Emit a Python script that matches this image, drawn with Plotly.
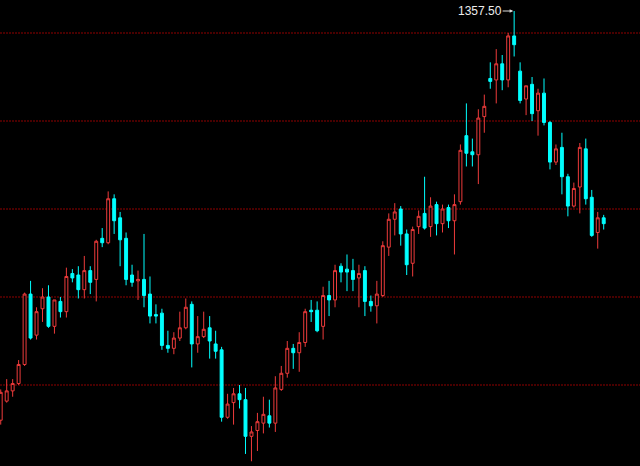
import plotly.graph_objects as go

# Daily OHLC series (bar index 0..101)
opens = [1218.0, 1224.5, 1228.0, 1230.5, 1237.0, 1261.0, 1247.0, 1256.0, 1260.0, 1250.0,
         1258.5, 1255.0, 1268.0, 1267.5, 1262.5, 1269.0, 1266.0, 1280.0, 1278.5, 1293.5,
         1287.0, 1280.0, 1267.5, 1265.5, 1266.0, 1261.0, 1254.0, 1254.5, 1243.5, 1242.5,
         1246.0, 1249.5, 1257.5, 1244.0, 1246.5, 1249.5, 1244.0, 1242.0, 1219.0, 1224.0,
         1227.0, 1225.0, 1212.5, 1214.5, 1217.0, 1219.5, 1217.0, 1228.5, 1234.0, 1242.5,
         1241.0, 1244.5, 1255.5, 1255.5, 1250.0, 1260.5, 1259.0, 1270.5, 1269.5, 1269.0,
         1266.5, 1269.0, 1258.5, 1257.0, 1260.5, 1277.0, 1286.5, 1290.0, 1281.5, 1271.5,
         1284.0, 1288.5, 1284.0, 1291.5, 1285.0, 1290.5, 1286.0, 1292.5, 1315.0, 1309.5,
         1308.5, 1321.5, 1334.5, 1334.0, 1339.5, 1334.0, 1349.0, 1337.0, 1327.5, 1332.5,
         1323.5, 1329.5, 1319.5, 1306.0, 1311.0, 1301.0, 1291.0, 1297.5, 1310.5, 1294.0,
         1282.0, 1287.0]
highs = [1228.5, 1232.0, 1232.0, 1238.5, 1261.5, 1265.5, 1256.5, 1263.0, 1264.0, 1259.0,
         1260.0, 1270.0, 1269.5, 1270.5, 1274.0, 1270.5, 1279.5, 1283.5, 1296.0, 1295.0,
         1289.0, 1282.0, 1271.0, 1269.0, 1281.5, 1267.0, 1257.5, 1256.0, 1248.5, 1248.0,
         1255.0, 1259.5, 1258.5, 1253.5, 1255.0, 1253.5, 1248.5, 1243.0, 1227.0, 1229.0,
         1230.0, 1229.0, 1216.0, 1220.5, 1226.0, 1225.0, 1233.0, 1236.5, 1245.0, 1244.0,
         1248.0, 1256.0, 1259.0, 1258.5, 1263.5, 1265.5, 1271.0, 1271.5, 1274.5, 1273.0,
         1271.0, 1270.5, 1260.5, 1265.5, 1279.0, 1288.5, 1292.0, 1291.0, 1283.0, 1284.0,
         1289.5, 1301.0, 1294.0, 1292.5, 1291.5, 1291.5, 1295.0, 1312.0, 1326.0, 1314.0,
         1324.0, 1329.0, 1340.0, 1344.5, 1342.5, 1350.0, 1357.5, 1340.0, 1332.0, 1335.0,
         1331.0, 1334.5, 1320.0, 1312.0, 1316.0, 1302.0, 1299.0, 1312.5, 1314.0, 1296.5,
         1289.0, 1288.0]
lows = [1216.5, 1224.0, 1226.0, 1230.0, 1236.5, 1245.5, 1245.5, 1251.5, 1249.5, 1247.5,
        1253.0, 1253.0, 1265.0, 1259.5, 1259.5, 1261.0, 1258.5, 1277.0, 1278.0, 1281.5,
        1270.5, 1264.0, 1263.5, 1259.0, 1256.5, 1251.0, 1251.0, 1242.0, 1241.0, 1240.5,
        1245.0, 1249.0, 1236.0, 1241.0, 1246.0, 1239.0, 1239.0, 1217.5, 1218.5, 1216.5,
        1222.0, 1206.5, 1204.0, 1207.5, 1213.5, 1215.5, 1214.0, 1228.0, 1232.5, 1235.5,
        1234.5, 1243.0, 1251.5, 1248.0, 1245.5, 1253.5, 1256.5, 1265.0, 1262.0, 1262.0,
        1256.5, 1253.5, 1255.0, 1251.0, 1260.0, 1274.0, 1281.0, 1277.5, 1267.5, 1267.0,
        1281.5, 1283.0, 1280.5, 1281.0, 1282.0, 1283.5, 1274.5, 1291.5, 1304.5, 1304.5,
        1298.5, 1316.0, 1331.0, 1326.0, 1330.5, 1331.5, 1342.0, 1326.0, 1322.0, 1320.0,
        1315.0, 1318.5, 1303.5, 1305.0, 1295.0, 1287.5, 1290.5, 1288.5, 1291.5, 1280.5,
        1276.5, 1283.0]
closes = [1227.5, 1228.0, 1230.5, 1237.0, 1261.0, 1246.0, 1255.0, 1260.0, 1250.0, 1259.0,
          1255.0, 1267.0, 1266.5, 1262.5, 1269.0, 1265.0, 1279.0, 1278.5, 1293.5, 1286.0,
          1279.5, 1266.0, 1265.0, 1266.0, 1260.5, 1253.5, 1253.5, 1243.5, 1242.5, 1246.0,
          1249.5, 1256.5, 1244.0, 1246.5, 1249.0, 1245.0, 1241.5, 1219.0, 1223.5, 1227.0,
          1225.0, 1212.5, 1214.0, 1217.5, 1220.0, 1217.0, 1229.0, 1234.0, 1242.5, 1241.0,
          1244.5, 1255.0, 1255.0, 1248.5, 1260.5, 1259.0, 1269.0, 1268.5, 1268.5, 1266.0,
          1268.0, 1258.5, 1257.0, 1261.0, 1277.5, 1286.5, 1289.0, 1281.5, 1271.0, 1283.0,
          1287.5, 1283.5, 1291.0, 1285.0, 1290.0, 1286.0, 1291.5, 1310.0, 1309.0, 1308.5,
          1321.0, 1325.0, 1333.5, 1339.5, 1334.0, 1349.0, 1346.0, 1327.0, 1332.0, 1322.5,
          1329.5, 1319.5, 1306.0, 1310.5, 1301.0, 1291.0, 1297.0, 1311.0, 1293.5, 1281.0,
          1287.0, 1285.0]

bars = list(range(len(opens)))
price_levels = [1230, 1260, 1290, 1320, 1350]

UP = "#ee3b3b"
DOWN = "#00ffff"
GRID = "#900000"

fig = go.Figure(go.Candlestick(
    x=bars, open=opens, high=highs, low=lows, close=closes,
    increasing=dict(line=dict(color=UP, width=1), fillcolor="#000000"),
    decreasing=dict(line=dict(color=DOWN, width=1), fillcolor=DOWN),
    whiskerwidth=0,
    showlegend=False,
    hoverinfo="skip",
))

# Dotted horizontal price guides behind the candles
for level in price_levels:
    fig.add_hline(y=level, line=dict(color=GRID, width=1, dash="2px,1px"), layer="below")

# Mark the highest high with its price and a pointer arrow
peak = max(range(len(highs)), key=lambda i: highs[i])
fig.add_annotation(
    x=bars[peak], y=highs[peak], text=f"{highs[peak]:.2f}",
    showarrow=True, ax=-34, ay=0, axref="pixel", ayref="pixel",
    arrowhead=2, arrowsize=0.7, arrowwidth=1, arrowcolor="#dcdcdc",
    standoff=1, borderpad=0,
    font=dict(family="Liberation Sans, Arial", size=12, color="#ececec"),
)

fig.update_layout(
    width=640, height=466,
    margin=dict(l=0, r=0, t=0, b=0),
    paper_bgcolor="#000000", plot_bgcolor="#000000",
    boxgap=0.3,
    xaxis=dict(range=[-0.12, 107.08], showgrid=False, zeroline=False,
               showticklabels=False, ticks="", showline=False,
               rangeslider=dict(visible=False)),
    yaxis=dict(range=[1202.39, 1361.25], showgrid=False,
               showticklabels=False, ticks="", zeroline=False, showline=False),
)

fig.write_html("out.html")
